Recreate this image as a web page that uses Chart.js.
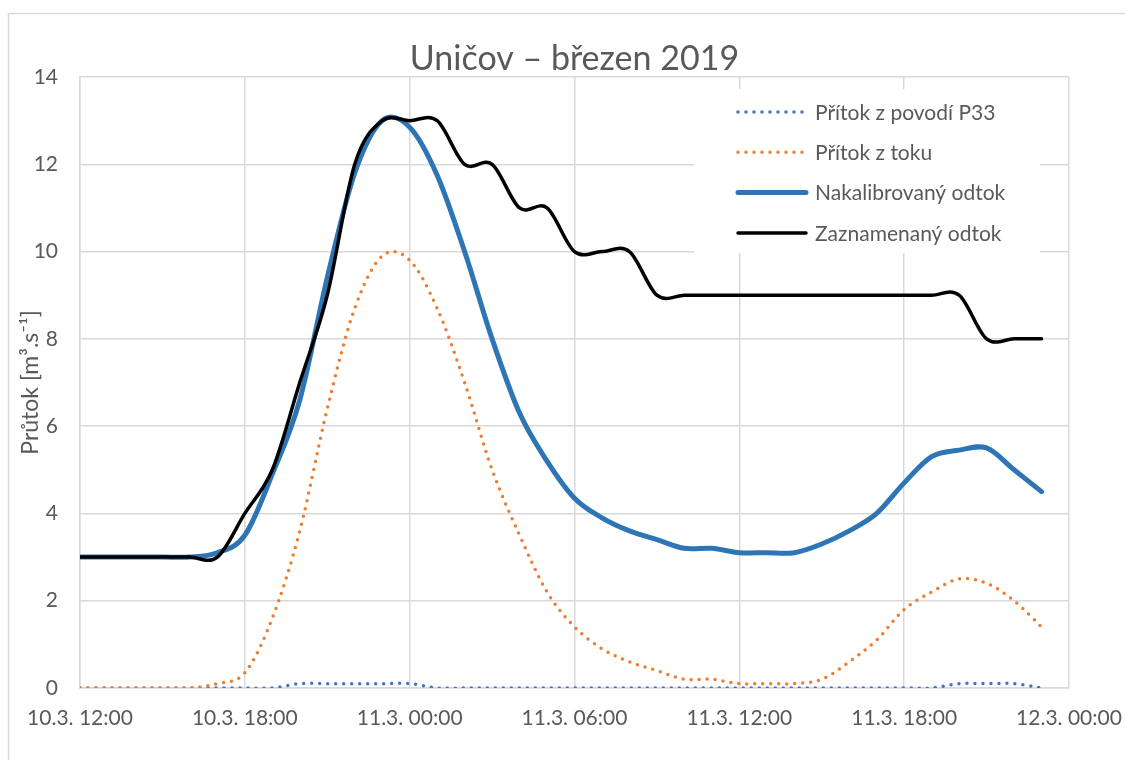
<!DOCTYPE html>
<html>
<head>
<meta charset="utf-8">
<script src="https://cdn.jsdelivr.net/npm/chart.js@4"></script>
<style>
html,body{margin:0;padding:0;background:#fff;overflow:hidden}
canvas{display:block}
</style>
</head>
<body>
<canvas id="c" width="1125" height="760"></canvas>
<script>
// ---------- DATA ----------
const chartTitle = 'Uničov – březen 2019';
const yAxisTitle = 'Průtok [m³.s⁻¹]';
// hours after 10.3. 12:00
const hours = [0,1,2,3,4,5,6,7,8,9,10,11,12,13,14,15,16,17,18,19,20,21,22,23,24,25,26,27,28,29,30,31,32,33,34,35];
const tickLabels = ['10.3. 12:00','10.3. 18:00','11.3. 00:00','11.3. 06:00','11.3. 12:00','11.3. 18:00','12.3. 00:00'];
const seriesNames = ['Přítok z povodí P33','Přítok z toku','Nakalibrovaný odtok','Zaznamenaný odtok'];

const pritokP33 = [0,0,0,0,0,0,0,0,0.1,0.1,0.1,0.1,0.1,0,0,0,0,0,0,0,0,0,0,0,0,0,0,0,0,0,0,0,0.1,0.1,0.1,0];
const pritokTok = [0,0,0,0,0,0.1,0.35,1.6,3.6,6.4,8.7,9.9,9.8,8.7,7.0,5.0,3.5,2.2,1.4,0.9,0.6,0.4,0.2,0.2,0.1,0.1,0.1,0.2,0.6,1.1,1.8,2.2,2.5,2.4,2.0,1.4];
const nakalibrovany = [3,3,3,3,3,3.1,3.5,4.9,6.6,9.4,11.8,13.0,12.85,11.75,10.0,8.0,6.3,5.2,4.35,3.9,3.6,3.4,3.2,3.2,3.1,3.1,3.1,3.3,3.6,4.0,4.7,5.3,5.45,5.5,5.0,4.5];
const zaznamenany = [3,3,3,3,3,3,4,5,7,9,12,13,13,13,12,12,11,11,10,10,10,9,9,9,9,9,9,9,9,9,9,9,9,8,8,8];

const yMin = 0, yMax = 14, yStep = 2;
const xMin = 0, xMax = 36, xStep = 6;

// ---------- STYLE ----------
const FONT = 'Lato';
const TEXT = '#595959';
const GRID = '#d9d9d9';

const toXY = (vals) => hours.map((h, i) => ({x: h, y: vals[i]}));

// Excel-like smoothing (Catmull-Rom control points)
const excelSmooth = {
  id: 'excelSmooth',
  beforeDatasetDraw(chart, args) {
    const meta = args.meta;
    const line = meta.dataset;
    if (!line) return;
    line.updateControlPoints(chart.chartArea, meta.iScale.axis);
    const pts = meta.data;
    const n = pts.length;
    for (let i = 0; i < n; i++) {
      const p = pts[i];
      const prev = pts[Math.max(0, i - 1)];
      const next = pts[Math.min(n - 1, i + 1)];
      const dx = (next.x - prev.x) / 6, dy = (next.y - prev.y) / 6;
      p.cp1x = p.x - dx; p.cp1y = p.y - dy;
      p.cp2x = p.x + dx; p.cp2y = p.y + dy;
    }
  }
};

const frameAndTitle = {
  id: 'frameAndTitle',
  beforeDraw(chart) {
    const ctx = chart.ctx;
    ctx.save();
    ctx.fillStyle = '#fff';
    ctx.fillRect(0, 0, chart.width, chart.height);
    ctx.strokeStyle = GRID;
    ctx.lineWidth = 1.5;
    ctx.strokeRect(8.5, 13.5, 1300, 900);
    ctx.restore();
  },
  afterDraw(chart) {
    const ctx = chart.ctx;
    const a = chart.chartArea;
    ctx.save();
    ctx.fillStyle = TEXT;
    ctx.font = '34px ' + FONT;
    ctx.textAlign = 'center';
    ctx.textBaseline = 'alphabetic';
    ctx.fillText(chartTitle, (a.left + a.right) / 2, 70);
    ctx.restore();
  }
};

const insideLegend = {
  id: 'insideLegend',
  afterDatasetsDraw(chart) {
    const ctx = chart.ctx;
    ctx.save();
    ctx.fillStyle = '#fff';
    ctx.fillRect(694, 89, 346, 164);
    chart.data.datasets.forEach((ds, i) => {
      const y = 112 + i * 40.3;
      ctx.beginPath();
      ctx.strokeStyle = ds.borderColor;
      ctx.lineWidth = ds.borderWidth;
      ctx.setLineDash(ds.borderDash || []);
      ctx.lineCap = 'round';
      ctx.moveTo(738, y);
      ctx.lineTo(806, y);
      ctx.stroke();
      ctx.setLineDash([]);
      ctx.fillStyle = TEXT;
      ctx.font = '21px ' + FONT;
      ctx.textAlign = 'left';
      ctx.textBaseline = 'middle';
      ctx.fillText(ds.label, 815, y + 1);
    });
    ctx.restore();
  }
};

new Chart(document.getElementById('c'), {
  type: 'line',
  data: {
    datasets: [
      {label: seriesNames[0], data: toXY(pritokP33), borderColor: '#4472C4', borderWidth: 3.5,
       borderDash: [0, 8], borderCapStyle: 'round', order: 4},
      {label: seriesNames[1], data: toXY(pritokTok), borderColor: '#ED7D31', borderWidth: 3.5,
       borderDash: [0, 8], borderCapStyle: 'round', order: 3},
      {label: seriesNames[2], data: toXY(nakalibrovany), borderColor: '#2E75B6', borderWidth: 5,
       borderCapStyle: 'round', order: 2},
      {label: seriesNames[3], data: toXY(zaznamenany), borderColor: '#000000', borderWidth: 3.5,
       borderCapStyle: 'round', order: 1}
    ]
  },
  options: {
    responsive: false,
    animation: false,
    devicePixelRatio: 1,
    layout: {padding: {left: 0, right: 56, top: 77, bottom: 0}},
    elements: {
      point: {radius: 0, hoverRadius: 0},
      line: {tension: 0.4, fill: false, borderJoinStyle: 'round', capBezierPoints: false}
    },
    plugins: {legend: {display: false}, title: {display: false}, tooltip: {enabled: false}},
    events: [],
    scales: {
      x: {
        type: 'linear', min: xMin, max: xMax,
        afterFit(s) { s.height = 72; s.paddingLeft = 0; s.paddingRight = 0; },
        ticks: {stepSize: xStep, autoSkip: false, maxRotation: 0, padding: 18, color: TEXT,
                font: {family: FONT, size: 21},
                callback: (v) => tickLabels[Math.round(v / xStep)]},
        grid: {color: GRID, lineWidth: 1.5, drawTicks: false},
        border: {color: GRID, width: 1.5}
      },
      y: {
        min: yMin, max: yMax,
        afterFit(s) { s.width = 80; s.paddingTop = 0; s.paddingBottom = 0; },
        ticks: {stepSize: yStep, padding: 22, color: TEXT, font: {family: FONT, size: 21}},
        title: {display: true, text: yAxisTitle, color: TEXT, font: {family: FONT, size: 23},
                padding: {top: 17, bottom: 0}},
        grid: {color: GRID, lineWidth: 1.5, drawTicks: false},
        border: {color: GRID, width: 1.5}
      }
    }
  },
  plugins: [excelSmooth, frameAndTitle, insideLegend]
});
</script>
</body>
</html>
